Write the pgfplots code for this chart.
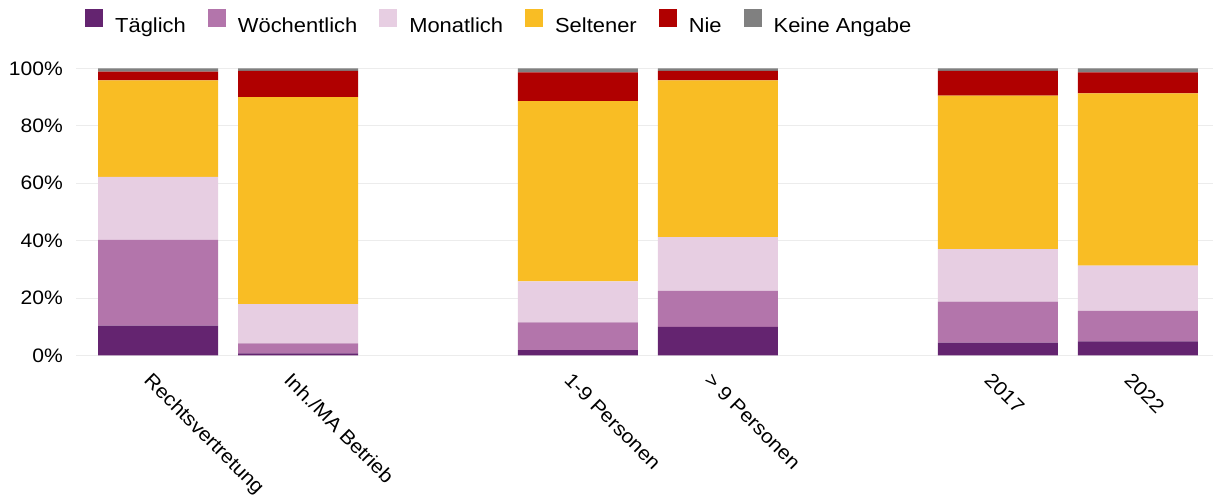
\documentclass[border=0pt]{standalone}
\usepackage{pgfplots}
\pgfplotsset{compat=1.18}
\usepackage{fontspec}
\setmainfont{Liberation Sans}[FakeStretch=1.08]
\definecolor{ctag}{RGB}{100,36,112}
\definecolor{cwoc}{RGB}{179,117,171}
\definecolor{cmon}{RGB}{231,206,226}
\definecolor{csel}{RGB}{249,189,36}
\definecolor{cnie}{RGB}{176,0,0}
\definecolor{ckei}{RGB}{128,128,128}
\definecolor{cgrid}{RGB}{236,236,236}
\newcommand{\lfont}{\fontsize{19.5}{23}\selectfont}
\newcommand{\legfont}{\fontsize{20.3}{24}\selectfont}
\begin{document}
\begin{tikzpicture}
\useasboundingbox (-76pt,-146.5pt) rectangle (1137pt,355.5pt);
\begin{axis}[
  at={(0pt,0pt)}, anchor=south west,
  scale only axis, width=1137pt, height=287.2pt,
  ybar stacked, bar width=120pt,
  xmin=-0.586, xmax=7.536, ymin=0, ymax=100,
  axis line style={draw=none}, tick style={draw=none},
  ymajorgrids, grid style={cgrid, line width=0.9pt},
  ytick={0,20,40,60,80,100},
  yticklabels={0\%,20\%,40\%,60\%,80\%,100\%},
  yticklabel style={font=\lfont, inner sep=0pt, anchor=east, xshift=-13pt},
  xtick={0,1,3,4,6,7},
  xticklabels={Rechtsvertretung,Inh./MA Betrieb,1-9 Personen,> 9 Personen,2017,2022},
  xticklabel style={font=\lfont, inner sep=0pt, xshift=-5pt, yshift=-16pt, rotate=-45, anchor=north west},
  legend columns=6,
  legend style={at={(axis description cs:0,1)}, anchor=west, xshift=9pt, yshift=46.5pt,
    draw=none, fill=none, inner sep=0pt, font=\legfont,
    nodes={inner sep=0pt},
    /tikz/every odd column/.append style={column sep=12pt},
    /tikz/every even column/.append style={column sep=22pt}},
  legend image code/.code={\fill[#1] (0pt,-1.5pt) rectangle (18pt,16.5pt);},
]
\addplot[fill=ctag, draw=none] coordinates {(0,10.4) (1,0.7) (3,1.9) (4,10.0) (6,4.5) (7,4.9)};
\addplot[fill=cwoc, draw=none] coordinates {(0,29.9) (1,3.5) (3,9.6) (4,12.5) (6,14.3) (7,10.6)};
\addplot[fill=cmon, draw=none] coordinates {(0,21.9) (1,13.7) (3,14.3) (4,18.7) (6,18.2) (7,15.8)};
\addplot[fill=csel, draw=none] coordinates {(0,33.6) (1,72.1) (3,62.8) (4,54.6) (6,53.5) (7,60.0)};
\addplot[fill=cnie, draw=none] coordinates {(0,3.0) (1,9.1) (3,10.0) (4,3.3) (6,8.6) (7,7.3)};
\addplot[fill=ckei, draw=none] coordinates {(0,1.2) (1,0.9) (3,1.4) (4,0.9) (6,0.9) (7,1.4)};
\legend{Täglich,Wöchentlich,Monatlich,Seltener,Nie,Keine Angabe}
\end{axis}
\end{tikzpicture}
\end{document}
